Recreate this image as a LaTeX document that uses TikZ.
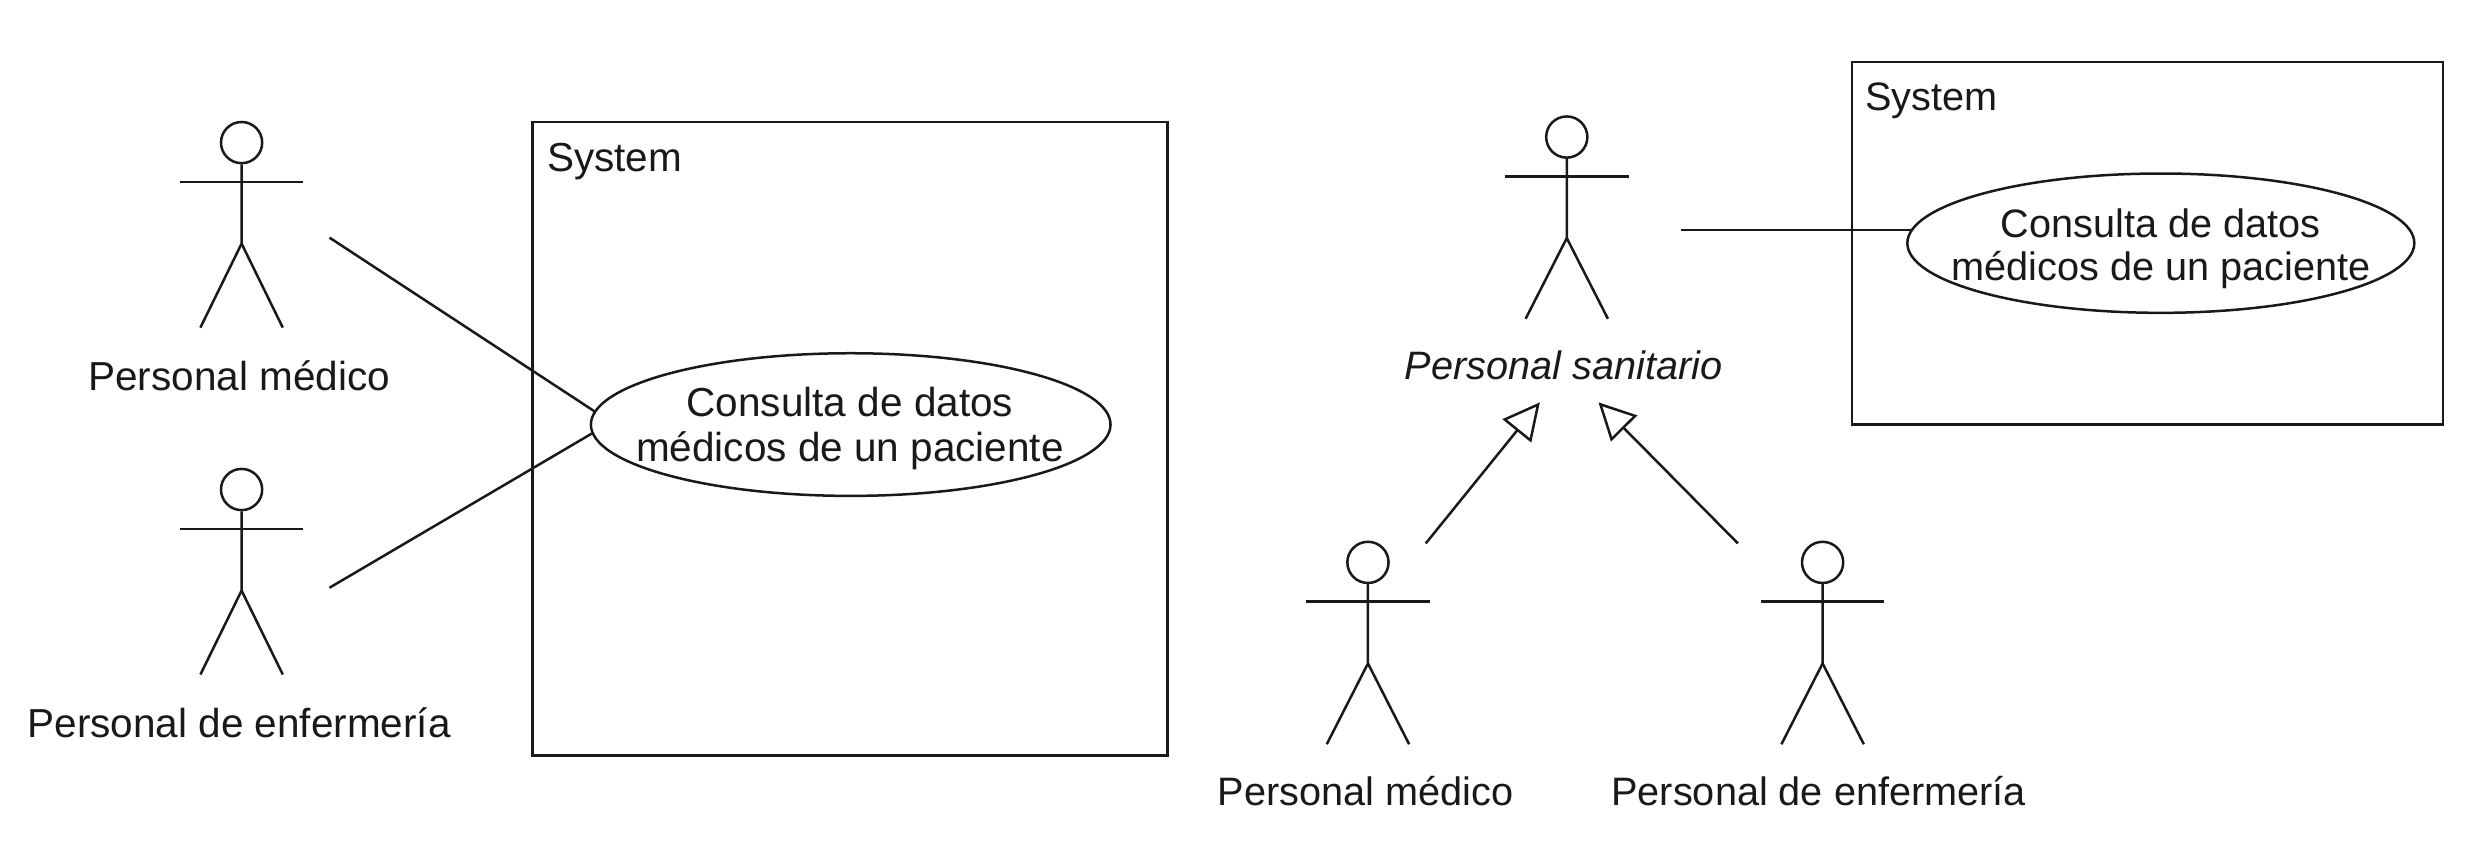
\documentclass[tikz,border=0pt]{standalone}
\usepackage{fontspec}
\setmainfont{Liberation Sans}
\usetikzlibrary{shapes.geometric,arrows.meta}
\tikzset{
  ln/.style={draw=black!90,line width=0.75pt},
  limb/.style={ln,line cap=butt},
  sysbox/.style={ln,rectangle,inner sep=0pt,fill=white},
  usecase/.style={ln,ellipse,inner sep=0pt,fill=white},
  lefttxt/.style={font=\fontsize{12.15}{13.3}\selectfont,text=black!90},
  righttxt/.style={font=\fontsize{11.9}{12.9}\selectfont,text=black!90},
  casetxt/.style={inner sep=0pt,align=center},
  lbl/.style={inner sep=0pt,anchor=base},
  gen/.style={ln,-{Triangle[open,length=11pt,width=11pt,fill=white]}},
}
\newcommand{\actorfig}[4]{%
  \node[ln,circle,inner sep=0pt,minimum size=12.36pt] (#1) at (#2,#3) {};
  \draw[limb] (#1.south) -- ++(0,50) coordinate (#1hip) -- ++(-26,#4);
  \draw[limb] (#1hip) -- ++(26,#4);
  \draw[limb] ([shift={(-39,11)}]#1.south) -- ++(78,0);
}
\begin{document}
\begin{tikzpicture}[x=0.4753pt,y=-0.4753pt]
\useasboundingbox (0,0) rectangle (1568,540.4);
% Left diagram
\node[sysbox,minimum width=190.6pt,minimum height=190.1pt] (sysL) at (536.5,277) {};
\node[lbl,lefttxt,anchor=base west] (sysLt) at (345,108.5) {System};
\node[usecase,minimum width=155.9pt,minimum height=42.8pt] (ucL) at (537,268) {};
\node[casetxt,lefttxt] (ucLt) at (536.5,270.5) {Consulta de datos\\médicos de un paciente};
\actorfig{am}{152.5}{90}{53}
\actorfig{ae}{152.5}{309}{53}
\node[lbl,lefttxt] (lam) at (151,246.5) {Personal médico};
\node[lbl,lefttxt] (lae) at (151,465.5) {Personal de enfermería};
\coordinate (amr) at (208,150);
\coordinate (aer) at (208,371);
\draw[ln] (amr) -- (ucL.177.5);
\draw[ln] (aer) -- (ucL.182.5);
% Right diagram
\node[sysbox,minimum width=177.3pt,minimum height=108.8pt] (sysR) at (1355.5,153.5) {};
\node[lbl,righttxt,anchor=base west] (sysRt) at (1177,69.5) {System};
\node[usecase,minimum width=152.1pt,minimum height=41.8pt] (ucR) at (1364,153.5) {};
\node[casetxt,righttxt] (ucRt) at (1364,157) {Consulta de datos\\médicos de un paciente};
\actorfig{as}{989}{86.5}{51}
\actorfig{bm}{863.5}{355}{51}
\actorfig{be}{1150.5}{355}{51}
\node[lbl,righttxt,font=\fontsize{11.9}{12.9}\selectfont\itshape] (las) at (987,239.5) {Personal sanitario};
\node[lbl,righttxt] (lbm) at (862,508.5) {Personal médico};
\node[lbl,righttxt] (lbe) at (1148,508.5) {Personal de enfermería};
\coordinate (asx) at (1061,0);
\coordinate (asr) at (ucR.177.3 -| asx);
\draw[ln] (asr) -- (ucR.177.3);
\coordinate (bmt) at (900,343);
\coordinate (bet) at (1097,343);
\coordinate (tipm) at (972,254);
\coordinate (tipe) at (1009,254);
\draw[gen] (bmt) -- (tipm);
\draw[gen] (bet) -- (tipe);
\end{tikzpicture}
\end{document}
